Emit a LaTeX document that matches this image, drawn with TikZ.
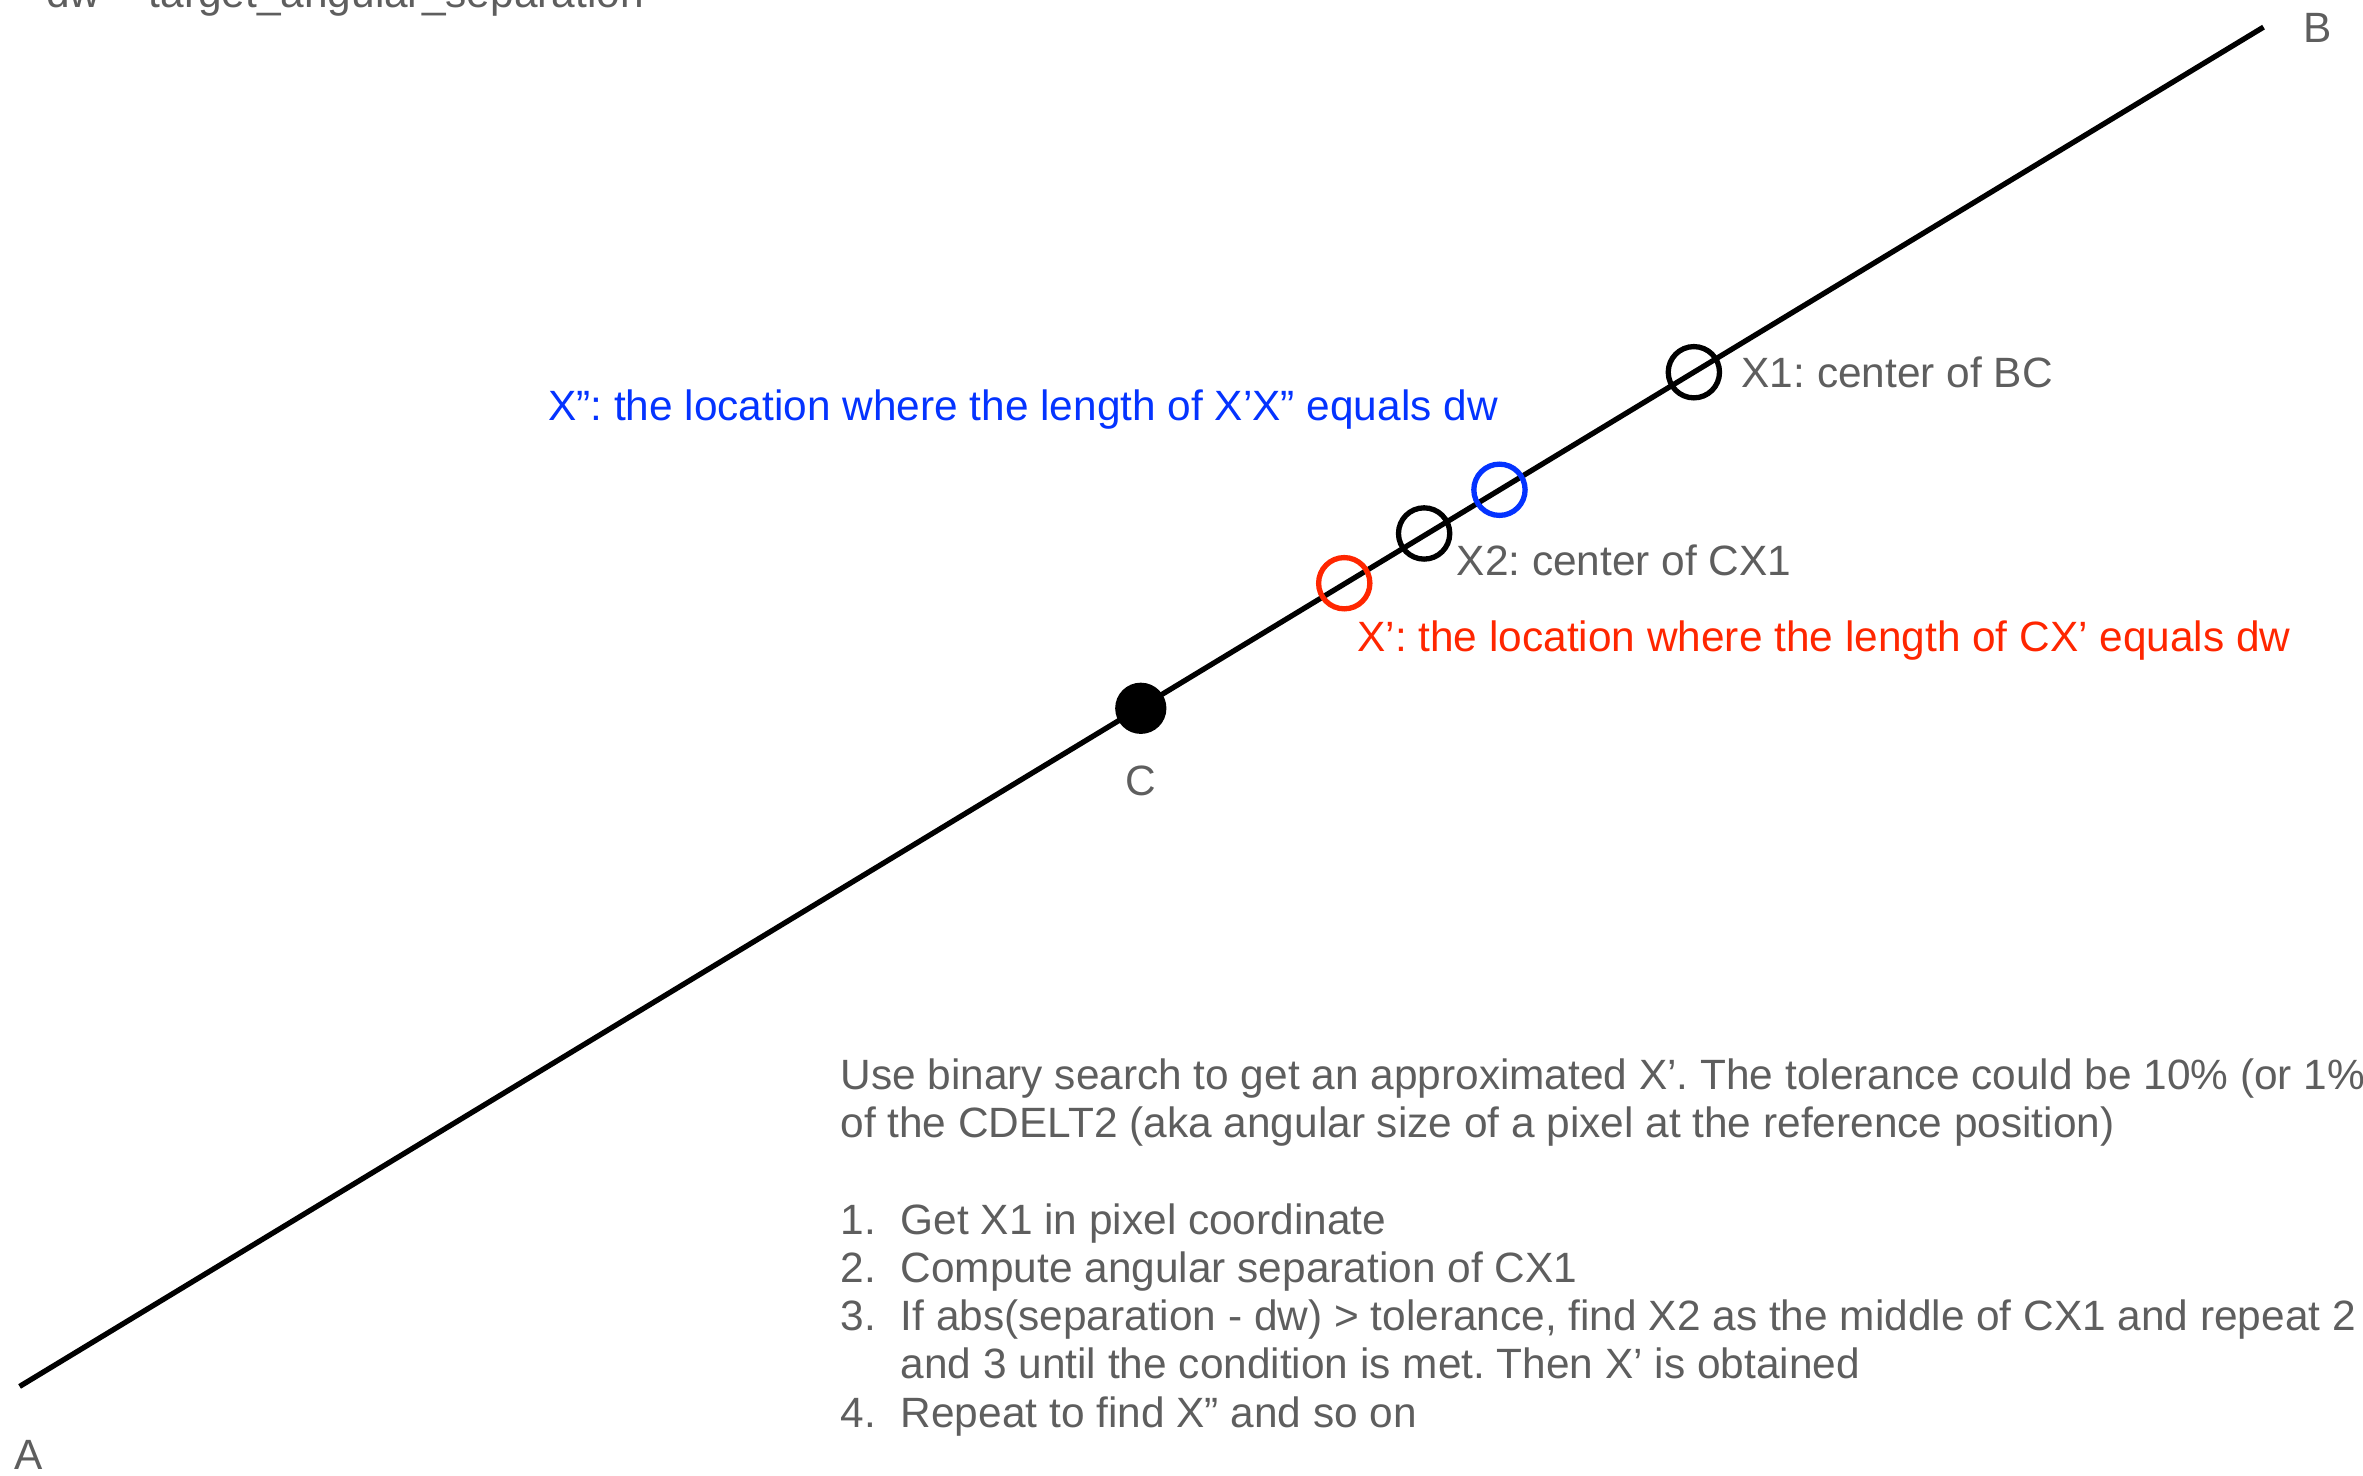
\documentclass[tikz,border=0pt]{standalone}
\usepackage{fontspec}
\setmainfont{Liberation Sans}
\usepackage{xcolor}
\usetikzlibrary{positioning}
\definecolor{tgrey}{RGB}{94,94,94}
\definecolor{kblue}{RGB}{4,51,255}
\definecolor{kred}{RGB}{255,38,0}
\frenchspacing

\begin{document}
\begin{tikzpicture}[
  x=0.01cm, y=-0.01cm,
  lbl/.style={anchor=base west, inner sep=0, font=\fontsize{8}{9.1}\selectfont, text=tgrey},
  ring/.style={circle, draw, line width=1pt, minimum size=0.34cm, inner sep=0},
  dot/.style={circle, fill=black, minimum size=0.34cm, inner sep=0}
]
\useasboundingbox (0,0) rectangle (1568,979);
% the line AB
\coordinate (A) at (13,920);
\coordinate (B) at (1502,18);
\draw[line width=1pt] (A) -- (B);
% points on the line
\node[dot] (C) at (757,470) {};
\node[ring, kred] (Xp) at (892,387) {};
\node[ring] (X2) at (945,354) {};
\node[ring, kblue] (Xpp) at (995,325) {};
\node[ring] (X1) at (1124,247) {};
% labels
\node[lbl] (dw) at (30,5) {dw = target\_angular\_separation};
\node[lbl] (lA) at (9,975) {A};
\node[lbl] (lB) at (1528,28) {B};
\node[lbl, anchor=base] (lC) at (757,528) {C};
\node[lbl] (lX1) at (1155,257) {X1: center of BC};
\node[lbl] (lX2) at (966,382) {X2: center of CX1};
\node[lbl, text=kblue] (lXpp) at (363,279) {X”: the location where the length of X’X” equals dw};
\node[lbl, text=kred] (lXp) at (900,432) {X’: the location where the length of CX’ equals dw};
% the method
\node[lbl] (steps) at (557,723) {\begin{tabular}[t]{@{}p{0.4cm}@{}l@{}}
  \multicolumn{2}{@{}l@{}}{Use binary search to get an approximated X’. The tolerance could be 10\% (or 1\%}\\
  \multicolumn{2}{@{}l@{}}{of the CDELT2 (aka angular size of a pixel at the reference position)}\\
  \\
  1. & Get X1 in pixel coordinate\\
  2. & Compute angular separation of CX1\\
  3. & If abs(separation - dw) > tolerance, find X2 as the middle of CX1 and repeat 2\\
     & and 3 until the condition is met. Then X’ is obtained\\
  4. & Repeat to find X” and so on
\end{tabular}};
\end{tikzpicture}
\end{document}
